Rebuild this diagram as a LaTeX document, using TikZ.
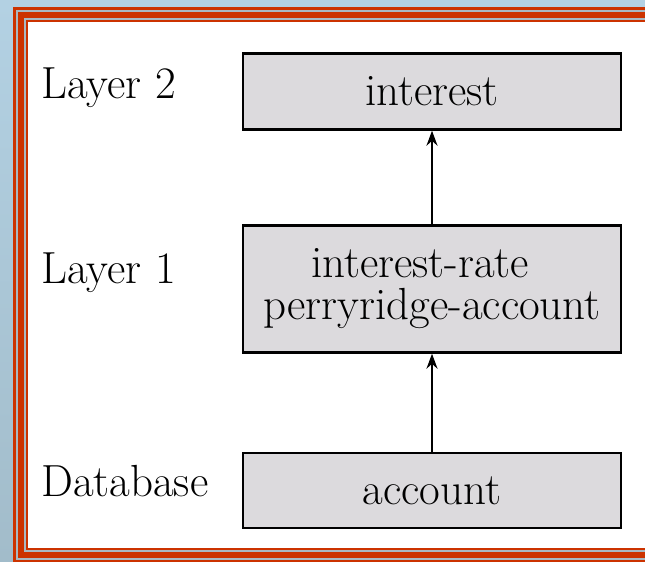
\documentclass[tikz,border=0pt]{standalone}
\usetikzlibrary{arrows.meta}
\definecolor{bgblue}{HTML}{B3D1E3}
\definecolor{bgblue2}{HTML}{A2BCCA}
\definecolor{framered}{HTML}{CC3300}
\definecolor{framegray}{HTML}{A9B9C2}
\definecolor{boxfill}{HTML}{DCDADD}
\tikzset{
  layerbox/.style={draw=black, line width=2.4pt, fill=boxfill, minimum width=378pt, align=center, font=\fontsize{45}{42}\selectfont, inner sep=0pt},
  layerlabel/.style={anchor=west, font=\fontsize{45}{42}\selectfont, inner sep=0pt},
  uparrow/.style={-{Stealth[length=15pt,width=11pt]}, line width=2pt}
}
\begin{document}
\begin{tikzpicture}[x=1pt,y=-1pt]
\useasboundingbox (0,0) rectangle (645,562);
\begin{scope}
\clip (0,0) rectangle (645,562);
\shade[top color=bgblue, bottom color=bgblue2] (0,0) rectangle (645,562);
\fill[framered] (13,7) rectangle (700,563);
\fill[framegray] (16,10) rectangle (697,560);
\fill[framered] (18,12) rectangle (695,558);
\fill[framegray] (24,18) rectangle (689,552);
\fill[framered] (26,20) rectangle (687,550);
\fill[white] (28,22) rectangle (685,548);
\end{scope}
\node[layerbox, minimum height=76pt] (interest) at (432,91.5) {interest};
\node[layerbox, minimum height=127pt] (layer1) at (432,289) {\makebox[0pt]{\hspace*{-24pt}interest-rate}\\perryridge-account};
\node[layerbox, minimum height=75pt] (account) at (432,490.5) {account};
\node[layerlabel] (l2) at (41,88) {Layer 2};
\node[layerlabel] (l1) at (41,273) {Layer 1};
\node[layerlabel] (db) at (41,481) {Database};
\draw[uparrow] (account.north) -- (layer1.south);
\draw[uparrow] (layer1.north) -- (interest.south);
\end{tikzpicture}
\end{document}
